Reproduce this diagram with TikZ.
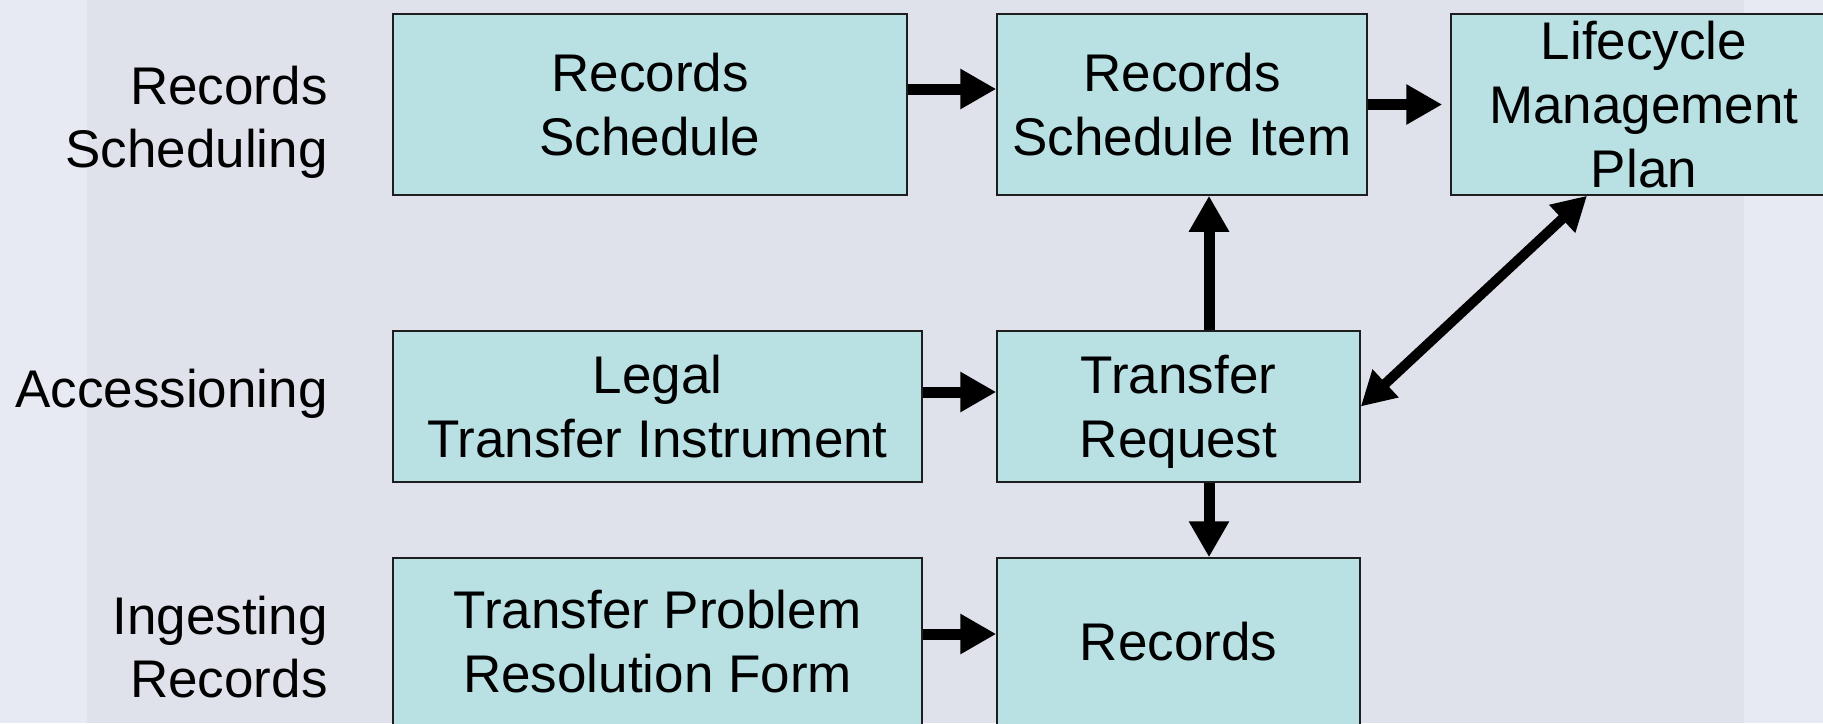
\documentclass[tikz,border=0pt]{standalone}
\usepackage{fontspec}
\setmainfont{Liberation Sans}
\usetikzlibrary{arrows.meta}
\definecolor{bg}{HTML}{E7EAF2}
\definecolor{bgmid}{HTML}{DFE2EA}
\definecolor{boxfill}{HTML}{B9E0E3}
\definecolor{boxline}{HTML}{1E1E1E}
\begin{document}
\begin{tikzpicture}[x=0.5pt,y=-0.5pt,
  box/.style={draw=boxline, line width=0.75pt, fill=boxfill, align=center, inner sep=0pt,
    font=\fontsize{26.5pt}{32pt}\selectfont, text depth=0pt},
  lbl/.style={align=right, inner sep=0pt, anchor=east,
    font=\fontsize{26.5pt}{31.5pt}\selectfont, text depth=0pt},
  arr/.style={line width=5.5pt, -{Triangle[length=18pt,width=19pt]}},
  darr/.style={line width=5pt, {Triangle[length=17pt,width=18pt]}-{Triangle[length=17pt,width=18pt]}}]
\useasboundingbox (0,0) rectangle (1823,723);
\clip (0,0) rectangle (1823,723);
\fill[bg] (0,0) rectangle (1823,723);
\fill[bgmid] (87,0) rectangle (1744,723);

% row labels
\node[lbl] (l1) at (328,117.2) {Records\\Scheduling};
\node[lbl] (l2) at (328,388.6) {Accessioning};
\node[lbl] (l3) at (328,647.2) {Ingesting\\Records};

% boxes
\node[box, minimum width=257pt, minimum height=90.5pt] (rs) at (650,104.5) {Records\\Schedule};
\node[box, minimum width=185pt, minimum height=90.5pt] (rsi) at (1182,104.5) {Records\\Schedule Item};
\node[box, minimum width=193pt, minimum height=90.5pt] (lmp) at (1644,104.5) {Lifecycle\\Management\\Plan};
\node[box, minimum width=264.5pt, minimum height=75.5pt] (lti) at (657.5,406.5) {Legal\\Transfer Instrument};
\node[box, minimum width=181.5pt, minimum height=75.5pt] (tr) at (1178.5,406.5) {Transfer\\Request};
\node[box, minimum width=264.5pt, minimum height=83.5pt] (tprf) at (657.5,641.5) {Transfer Problem\\Resolution Form};
\node[box, minimum width=181.5pt, minimum height=83.5pt] (rec) at (1178.5,641.5) {Records};

% connectors
\draw[arr] ([yshift=7.75pt]rs.east) -- ([yshift=7.75pt]rsi.west);
\draw[arr, shorten >=4pt] (rsi.east) -- (lmp.west);
\draw[arr] ([yshift=7.25pt]lti.east) -- ([yshift=7.25pt]tr.west);
\draw[arr] ([yshift=3.75pt]tprf.east) -- ([yshift=3.75pt]rec.west);
\draw[arr] ([xshift=15.25pt]tr.north) -- ([xshift=15.25pt]tr.north |- rsi.south);
\draw[arr] ([xshift=15.25pt]tr.south) -- ([xshift=15.25pt]tr.south |- rec.north);
\draw[darr] (tr.east) -- ([xshift=-28.5pt]lmp.south);
\end{tikzpicture}
\end{document}
